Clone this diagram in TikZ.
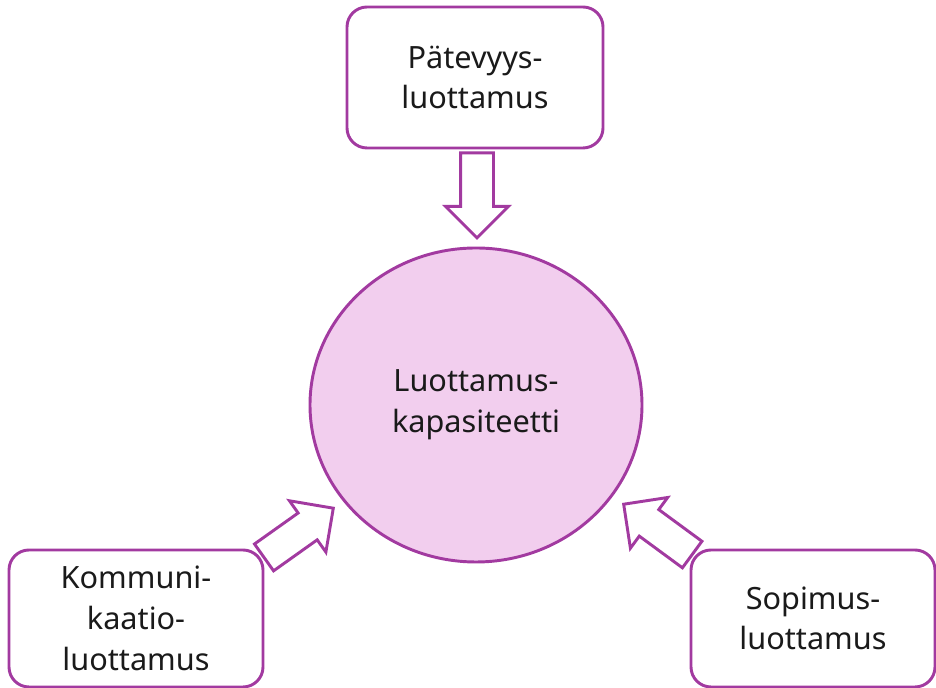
\documentclass[tikz,border=0pt]{standalone}
\usepackage{fontspec}
\setmainfont{Noto Sans}
\usetikzlibrary{shapes.geometric, shapes.arrows, positioning, calc}
\definecolor{ltpurple}{HTML}{A23AA0}
\definecolor{ltpink}{HTML}{F2CEEE}
\definecolor{lttext}{HTML}{1A1A1A}
\tikzset{
  lt box/.style={
    rectangle, rounded corners=15pt, draw=ltpurple, fill=white,
    line width=2.2pt, text=lttext,
    minimum height=102.75pt, align=center,
    font=\fontsize{23}{30.5}\selectfont, inner sep=2pt
  },
  lt core/.style={
    ellipse, draw=ltpurple, fill=ltpink, line width=2.2pt,
    minimum width=249pt, minimum height=235.5pt,
    text=lttext, align=center,
    font=\fontsize{23}{30.5}\selectfont
  },
  lt arrow/.style={
    single arrow, draw=ltpurple, fill=white, line width=2.2pt,
    minimum height=63.75pt, minimum width=0pt,
    inner xsep=0pt, inner ysep=11.25pt,
    single arrow head extend=11.25pt, anchor=tip
  }
}

\begin{document}
\begin{tikzpicture}[x=0.75pt, y=0.75pt]
  \useasboundingbox (0,0) rectangle (936,688);

  \node (core) [lt core] at (476,283) {Luottamus-\\kapasiteetti};
  \node (patev) [lt box, minimum width=192pt, minimum height=105.75pt] at (475,610.5) {Pätevyys-\\luottamus};
  \node (kommu) [lt box, minimum width=190.5pt] at (136,69.5) {Kommuni-\\kaatio-\\luottamus};
  \node (sopim) [lt box, minimum width=183pt] at (813,69.5) {Sopimus-\\luottamus};

  % block arrows into the core, placed by their tips
  \node (a1) [lt arrow, rotate=-90] at (477,448) {};
  \node (a2) [lt arrow, rotate=35.4] at (335,181) {};
  \node (a3) [lt arrow, rotate=143.7] at (622,185) {};
\end{tikzpicture}
\end{document}
